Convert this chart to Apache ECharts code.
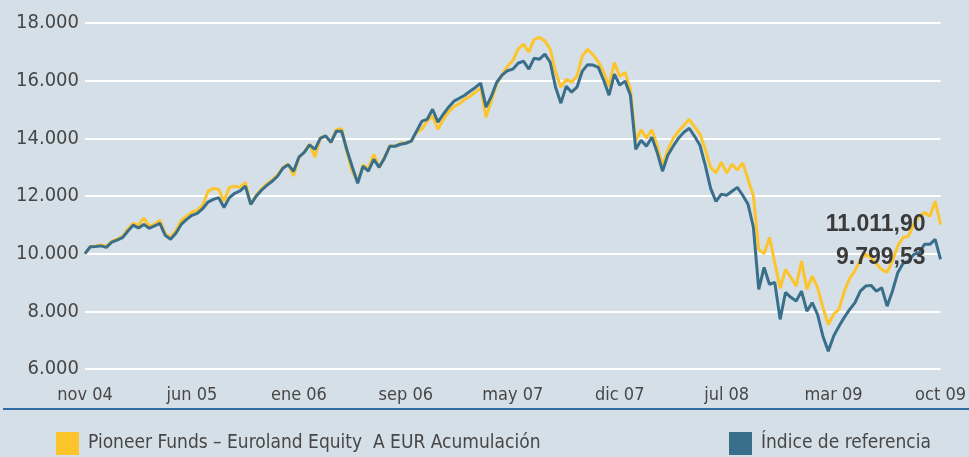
<!DOCTYPE html>
<html>
<head>
<meta charset="utf-8">
<script src="https://cdn.jsdelivr.net/npm/echarts@6/dist/echarts.min.js"></script>
<style>
  html, body { margin: 0; padding: 0; background: #d5dfe7; }
  #chart { width: 969px; height: 457px; }
</style>
</head>
<body>
<div id="chart"></div>
<script>
// Period labels shown under the time axis (every 20th observation)
const tickLabels = ['nov 04', 'jun 05', 'ene 06', 'sep 06', 'may 07', 'dic 07', 'jul 08', 'mar 09', 'oct 09'];
const tickEvery = 20;

// Value of 10.000 invested, weekly-ish observations
const fundName = 'Pioneer Funds – Euroland Equity  A EUR Acumulación';
const fundValues = [
  10000, 10250, 10270, 10300, 10260, 10430, 10500, 10600, 10850, 11050,
  11000, 11230, 10950, 11020, 11160, 10700, 10560, 10800, 11150, 11300,
  11440, 11510, 11680, 12160, 12265, 12230, 11825, 12300, 12335, 12300,
  12475, 11710, 12020, 12240, 12420, 12560, 12720, 12990, 13110, 12700,
  13330, 13520, 13800, 13345, 14020, 14080, 13850, 14300, 14330, 13500,
  12850, 12500, 13080, 12950, 13450, 12990, 13330, 13740, 13720, 13830,
  13850, 13890, 14200, 14320, 14600, 14780, 14315, 14650, 14920, 15100,
  15200, 15350, 15460, 15600, 15750, 14730, 15300, 15900, 16200, 16500,
  16690, 17090, 17265, 16990, 17435, 17500, 17380, 17090, 16300, 15775,
  16050, 15950, 16150, 16860, 17090, 16900, 16650, 16300, 15800, 16630,
  16150, 16285, 15700, 13900, 14300, 14000, 14300, 13750, 13040, 13600,
  14000, 14250, 14450, 14660, 14400, 14150, 13620, 12995, 12800, 13170,
  12800, 13100, 12900, 13150, 12580, 12000, 10150, 10000, 10565, 9690,
  8800, 9455, 9175, 8875, 9745, 8760, 9220, 8830, 8135, 7545,
  7900, 8070, 8700, 9140, 9400, 9780, 9975, 9870, 9650, 9450,
  9350, 9750, 10270, 10560, 10610, 11020, 11300, 11430, 11300, 11820,
  11011.90
];

const indexName = 'Índice de referencia';
const indexValues = [
  10000, 10240, 10250, 10270, 10220, 10400, 10470, 10555, 10775, 10990,
  10890, 11015, 10880, 10960, 11050, 10635, 10500, 10705, 11015, 11190,
  11330, 11400, 11560, 11790, 11885, 11945, 11600, 11945, 12095, 12175,
  12345, 11710, 11990, 12200, 12370, 12510, 12685, 12960, 13085, 12860,
  13345, 13515, 13775, 13620, 14000, 14085, 13865, 14245, 14245, 13585,
  12995, 12440, 13030, 12860, 13275, 12995, 13310, 13725, 13725, 13795,
  13830, 13900, 14245, 14595, 14660, 15010, 14560, 14835, 15080, 15290,
  15390, 15495, 15635, 15765, 15915, 15080, 15460, 15945, 16190, 16345,
  16400, 16605, 16675, 16400, 16780, 16745, 16920, 16640, 15775, 15220,
  15810, 15600, 15775, 16330, 16555, 16540, 16460, 16015, 15495, 16225,
  15845, 15985, 15495, 13620, 13935, 13725, 14040, 13515, 12860, 13415,
  13725, 14005, 14210, 14350, 14070, 13760, 13065, 12265, 11815, 12060,
  12025, 12165, 12300, 12025, 11710, 10915, 8765, 9525, 8940, 9000,
  7720, 8655, 8485, 8355, 8700, 8005, 8300, 7890, 7140, 6620,
  7140, 7485, 7790, 8065, 8300, 8700, 8875, 8900, 8700, 8820,
  8180, 8700, 9340, 9665, 9745, 9975, 10035, 10325, 10325, 10495,
  9799.53
];

const yTicks = { min: 6000, max: 18000, step: 2000 };

const fundColor = '#fdc52c';
const indexColor = '#3a6f8c';
const textColor = '#474747';
const narrowFont = '"DejaVu Sans Condensed", "Liberation Sans", sans-serif';

// Spanish number formatting: 11.011,90
function fmtEs(v, decimals) {
  const parts = v.toFixed(decimals).split('.');
  const intPart = parts[0].replace(/\B(?=(\d{3})+(?!\d))/g, '.');
  return parts.length > 1 ? intPart + ',' + parts[1] : intPart;
}

const categories = fundValues.map((_, i) => i);

const chart = echarts.init(document.getElementById('chart'), null, { renderer: 'canvas' });

function endLabel(offsetY) {
  return {
    show: true,
    align: 'right',
    verticalAlign: 'middle',
    distance: 0,
    offset: [-15, offsetY],
    formatter: p => fmtEs(p.value, 2),
    color: '#3a3a3a',
    fontFamily: '"Liberation Sans", Arial, sans-serif',
    fontWeight: 'bold',
    fontSize: 23
  };
}

chart.setOption({
  backgroundColor: '#d5dfe7',
  animation: false,
  grid: { left: 85, right: 25, top: 23, bottom: 88, containLabel: false },
  xAxis: {
    type: 'category',
    data: categories,
    boundaryGap: false,
    axisLine: { show: false },
    axisTick: { show: false },
    splitLine: { show: false },
    axisLabel: {
      interval: tickEvery - 1,
      margin: 17,
      color: textColor,
      fontFamily: narrowFont,
      fontSize: 18,
      formatter: (v, idx) => tickLabels[Math.round(idx / tickEvery)] || ''
    }
  },
  yAxis: {
    type: 'value',
    min: yTicks.min,
    max: yTicks.max,
    interval: yTicks.step,
    axisLine: { show: false },
    axisTick: { show: false },
    splitLine: { show: true, lineStyle: { color: '#ffffff', width: 2 } },
    axisLabel: {
      margin: 6,
      color: textColor,
      fontFamily: narrowFont,
      fontSize: 20,
      formatter: v => fmtEs(v, 0)
    }
  },
  legend: [
    {
      data: [fundName],
      left: 56, top: 432, padding: 0,
      icon: 'rect', itemWidth: 23, itemHeight: 23, itemGap: 9,
      textStyle: { color: textColor, fontFamily: narrowFont, fontSize: 19, padding: [2, 0, 0, 4] }
    },
    {
      data: [indexName],
      left: 729, top: 432, padding: 0,
      icon: 'rect', itemWidth: 23, itemHeight: 23, itemGap: 9,
      textStyle: { color: textColor, fontFamily: narrowFont, fontSize: 19, padding: [2, 0, 0, 4] }
    }
  ],
  graphic: [
    {
      type: 'line',
      shape: { x1: 3, y1: 409, x2: 969, y2: 409 },
      style: { stroke: '#2f6ea3', lineWidth: 2 },
      silent: true
    }
  ],
  series: [
    {
      name: fundName,
      type: 'line',
      data: fundValues,
      symbol: 'none',
      color: fundColor,
      lineStyle: { color: fundColor, width: 3 },
      endLabel: endLabel(0),
      z: 2
    },
    {
      name: indexName,
      type: 'line',
      data: indexValues,
      symbol: 'none',
      color: indexColor,
      lineStyle: { color: indexColor, width: 3 },
      endLabel: endLabel(-1.5),
      z: 3
    }
  ]
});
</script>
</body>
</html>
